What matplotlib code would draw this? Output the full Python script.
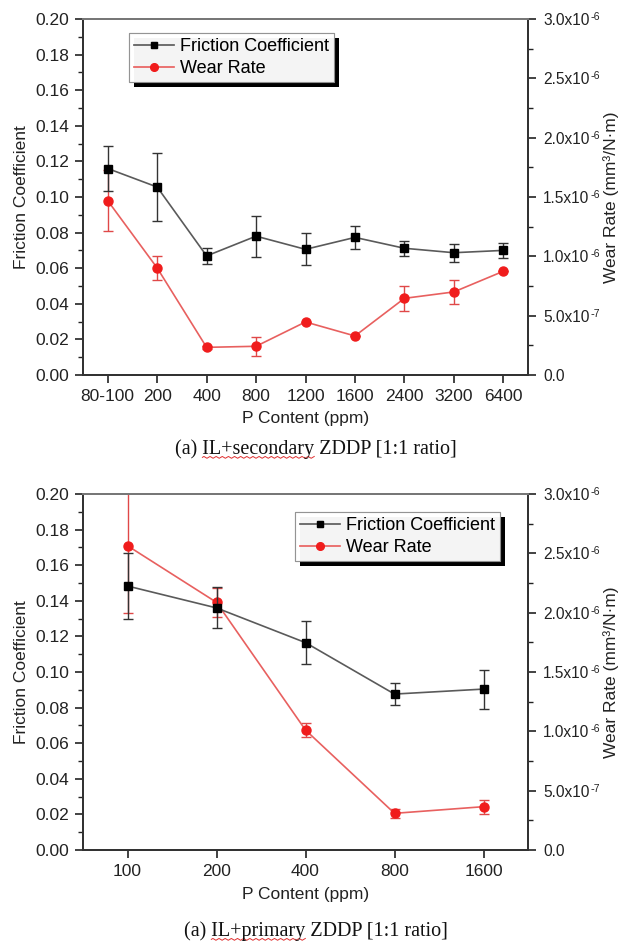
import matplotlib
matplotlib.use("Agg")
import matplotlib.pyplot as plt
from matplotlib.patches import Rectangle
from matplotlib.lines import Line2D
from matplotlib.ticker import MultipleLocator, FuncFormatter
import numpy as np

plt.rcParams['font.family'] = ['Liberation Sans', 'DejaVu Sans']

# ---- data: panel (a) secondary ZDDP ----
cats_sec = ["80-100", "200", "400", "800", "1200", "1600", "2400", "3200", "6400"]
fric_sec = [0.116, 0.1056, 0.0669, 0.078, 0.0706, 0.0773, 0.0712, 0.0687, 0.070]
fric_sec_err = [0.0127, 0.019, 0.0045, 0.0115, 0.009, 0.0065, 0.0043, 0.005, 0.0044]
wear_sec = [1.469e-6, 0.902e-6, 0.233e-6, 0.242e-6, 0.447e-6, 0.329e-6, 0.646e-6, 0.70e-6, 0.874e-6]
wear_sec_err = [0.256e-6, 0.10e-6, 0.01e-6, 0.08e-6, 0.0, 0.0, 0.105e-6, 0.10e-6, 0.0]

# ---- data: panel (a) primary ZDDP ----
cats_pri = ["100", "200", "400", "800", "1600"]
fric_pri = [0.1483, 0.136, 0.1165, 0.0876, 0.0904]
fric_pri_err = [0.0186, 0.0115, 0.012, 0.006, 0.011]
wear_pri = [2.564e-6, 2.087e-6, 1.011e-6, 0.309e-6, 0.365e-6]
wear_pri_err = [0.57e-6, 0.12e-6, 0.06e-6, 0.04e-6, 0.06e-6]

captions = ["(a) IL+secondary ZDDP [1:1 ratio]", "(a) IL+primary ZDDP [1:1 ratio]"]
underlined = ["IL+secondary", "IL+primary"]

W, H = 624, 944
fig = plt.figure(figsize=(W / 100, H / 100), dpi=100)

FS = 12.5
FS_R = 11.2
TXT = '#222222'
BLK_LINE = '#5a5a5a'
RED_LINE = '#e8605f'
RED_MK = '#f01c1c'


def split_sci(v):
    if abs(v) < 1e-12:
        return "0.0", ""
    e = int(np.floor(np.log10(abs(v)) + 1e-9))
    return "%.1fx10" % (v / 10 ** e), str(e)


def panel(top_px, cats, fric, ferr, wear, werr, legend_px):
    left, right, bottom = 83, 528, top_px + 356
    ax = fig.add_axes([left / W, (H - bottom) / H, (right - left) / W, 356 / H])
    x = np.arange(len(cats))
    ax2 = ax.twinx()
    ax.set_zorder(ax2.get_zorder() + 1)
    ax.patch.set_visible(False)

    ax2.errorbar(x, wear, yerr=werr, color=RED_LINE, ecolor='#e04848', elinewidth=1.0,
                 capsize=3.5, capthick=1.0, lw=1.2, marker='o', ms=6.5,
                 mfc=RED_MK, mec=RED_MK, zorder=2)
    ax.errorbar(x, fric, yerr=ferr, color=BLK_LINE, ecolor='#333333', elinewidth=1.0,
                capsize=3.5, capthick=1.0, lw=1.2, marker='s', ms=5.5,
                mfc='black', mec='black', zorder=3)

    ax.set_xlim(-0.5, len(cats) - 0.5)
    ax.set_ylim(0, 0.20)
    ax2.set_ylim(0, 3.0e-6)
    ax.set_xticks(x)
    ax.set_xticklabels(cats)
    ax.yaxis.set_major_locator(MultipleLocator(0.02))
    ax.yaxis.set_minor_locator(MultipleLocator(0.01))
    ax.yaxis.set_major_formatter(FuncFormatter(lambda v, p: "%.2f" % v))
    ax2.yaxis.set_major_locator(MultipleLocator(0.5e-6))
    ax2.yaxis.set_minor_locator(MultipleLocator(0.25e-6))
    ax2.yaxis.set_major_formatter(FuncFormatter(lambda v, p: split_sci(v)[0]))

    for a in (ax, ax2):
        a.tick_params(axis='both', which='major', direction='out', length=6, width=1.2,
                      labelsize=FS, colors=TXT, pad=4)
        a.tick_params(axis='both', which='minor', direction='out', length=3.5, width=1.0,
                      colors=TXT)
        for s in a.spines.values():
            s.set_linewidth(1.4)
            s.set_color('#333333')
    ax2.tick_params(axis='y', which='major', labelsize=FS_R, pad=5)
    ax.spines['top'].set_color('#777777')
    ax2.spines['top'].set_color('#777777')
    ax.tick_params(axis='x', which='minor', bottom=False)

    ax.set_ylabel("Friction Coefficient", fontsize=12.5, color=TXT)
    ax2.set_ylabel("Wear Rate (mm³/N·m)", fontsize=12.5, color=TXT)
    ax.set_xlabel("P Content (ppm)", fontsize=12.5, color=TXT)
    ax.yaxis.set_label_coords((21 - left) / (right - left), 0.5)
    ax2.yaxis.set_label_coords((611 - left) / (right - left), 0.5)
    ax.xaxis.set_label_coords(0.5, -44 / 356)
    ax.yaxis.label.set_va('center')
    ax2.yaxis.label.set_va('center')
    ax.xaxis.label.set_va('center')

    handles = [Line2D([], [], color=BLK_LINE, lw=1.2, marker='s', ms=5, mfc='black', mec='black'),
               Line2D([], [], color=RED_LINE, lw=1.2, marker='o', ms=5.5, mfc=RED_MK, mec=RED_MK)]
    lx, ly = legend_px
    leg = ax.legend(handles, ["Friction Coefficient", "Wear Rate"], loc='upper left',
                    bbox_to_anchor=(lx / W, (H - ly) / H), bbox_transform=fig.transFigure,
                    fontsize=13, frameon=True, fancybox=False, handlelength=2.2,
                    handletextpad=0.3, borderpad=0.3, labelspacing=0.25, borderaxespad=0)
    leg.get_frame().set_edgecolor('#888888')
    leg.get_frame().set_linewidth(0.8)
    leg.set_zorder(10)
    return ax, ax2, leg


ax_a, ax2_a, leg_a = panel(19, cats_sec, fric_sec, fric_sec_err, wear_sec, wear_sec_err, (129, 33))
ax_b, ax2_b, leg_b = panel(494, cats_pri, fric_pri, fric_pri_err, wear_pri, wear_pri_err, (295, 512))

caps = []
for cy, cap in zip([449, 931], captions):
    t = fig.text(316 / W, (H - cy) / H, cap, ha='center', va='center',
                 family=['Liberation Serif', 'DejaVu Serif'], fontsize=14.5, color='#111111')
    caps.append(t)

fig.canvas.draw()
r = fig.canvas.get_renderer()

# small raised exponents after the right-axis tick labels
for a2 in (ax2_a, ax2_b):
    lo, hi = a2.get_ylim()
    locs = a2.yaxis.get_majorticklocs()
    for tk, v in zip(a2.yaxis.get_major_ticks(), locs):
        if v < lo - 1e-12 or v > hi + 1e-12:
            continue
        lab = tk.label2
        exp = split_sci(v)[1]
        if not exp:
            continue
        bb = lab.get_window_extent(r)
        fig.text((bb.x1 + 0.5) / W, (bb.y1 + 1) / H, exp.replace('-', '\u2011'),
                 fontsize=7.5, color=TXT, ha='left', va='top')

# drop shadows for legends
for leg in (leg_a, leg_b):
    bb = leg.get_window_extent(r)
    off = 5
    sh = Rectangle(((bb.x0 + off) / W, (bb.y0 - off) / H), bb.width / W, bb.height / H,
                   transform=fig.transFigure, facecolor='black', edgecolor='none', zorder=0)
    fig.add_artist(sh)
    fig.add_artist(leg)

# red wavy underline beneath the spell-checked word
for t, cap, word in zip(caps, captions, underlined):
    bb = t.get_window_extent(r)
    tmp = fig.text(0, 0, cap[:cap.index(word)], family=['Liberation Serif', 'DejaVu Serif'], fontsize=14.5)
    w0 = tmp.get_window_extent(r).width
    tmp.set_text(cap[:cap.index(word) + len(word)])
    w1 = tmp.get_window_extent(r).width
    tmp.remove()
    n = int((w1 - w0) / 1.5)
    xs = np.linspace(bb.x0 + w0, bb.x0 + w1, n)
    ys = bb.y0 + 1.5 + 0.9 * np.sin(np.arange(n) * np.pi / 2)
    fig.add_artist(Line2D(xs / W, ys / H, transform=fig.transFigure, color='#e03030', lw=0.7))

fig.savefig("out.png", dpi=100)
